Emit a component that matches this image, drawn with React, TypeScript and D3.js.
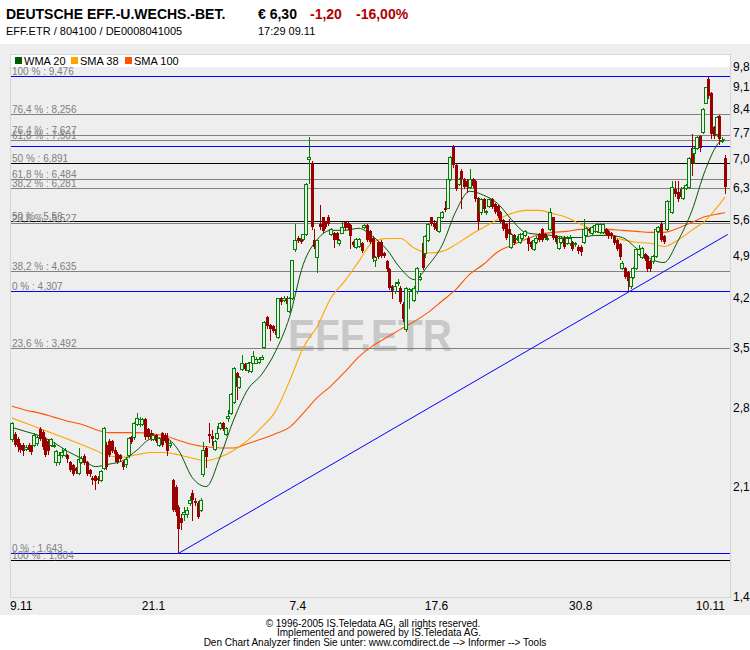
import { useEffect, useRef } from "react";
import * as d3 from "d3";

// daily candles, 9.11.2004 .. 9.11.2005
const opens = [
  2.50, 2.55, 2.50, 2.45, 2.45, 2.41, 2.45, 2.44, 2.45, 2.46, 2.59, 2.57, 2.50, 2.48, 2.45, 2.44, 2.30, 2.30, 2.36, 2.36,
  2.36, 2.30, 2.27, 2.25, 2.21, 2.30, 2.35, 2.30, 2.23, 2.17, 2.18, 2.17, 2.15, 2.25, 2.45, 2.48, 2.48, 2.40, 2.37, 2.36,
  2.30, 2.28, 2.36, 2.52, 2.52, 2.64, 2.64, 2.64, 2.69, 2.59, 2.56, 2.50, 2.54, 2.45, 2.56, 2.54, 2.51, 2.45, 2.15, 2.10,
  1.95, 1.87, 1.90, 1.90, 1.98, 2.05, 1.99, 1.98, 1.93, 2.20, 2.42, 2.55, 2.53, 2.41, 2.51, 2.60, 2.65, 2.55, 2.70, 2.75,
  2.86, 3.19, 3.03, 3.23, 3.29, 3.22, 3.21, 3.31, 3.31, 3.32, 3.36, 3.50, 3.91, 3.80, 3.78, 3.74, 3.64, 4.19, 4.17, 4.20,
  4.00, 4.19, 5.02, 5.24, 5.24, 5.22, 5.30, 7.00, 6.90, 5.20, 4.88, 5.50, 5.64, 5.55, 5.64, 5.30, 5.33, 5.33, 5.13, 5.33,
  5.55, 5.52, 5.48, 5.16, 5.07, 5.08, 5.14, 5.44, 5.48, 5.36, 5.24, 4.82, 5.16, 5.16, 4.95, 4.80, 4.66, 4.38, 4.30, 4.43,
  4.36, 4.11, 3.74, 4.30, 4.32, 4.17, 4.30, 4.50, 5.13, 4.95, 5.20, 5.64, 5.53, 5.53, 5.36, 5.64, 5.83, 5.85, 6.49, 7.30,
  6.85, 6.38, 6.70, 6.49, 6.46, 6.30, 6.49, 6.45, 6.05, 5.75, 6.03, 5.75, 5.88, 6.03, 5.92, 5.88, 5.75, 5.58, 5.50, 5.40,
  5.07, 5.28, 5.22, 5.16, 5.24, 5.28, 5.24, 5.16, 5.02, 5.16, 5.30, 5.40, 5.30, 5.22, 5.40, 5.64, 5.26, 5.05, 5.16, 5.24,
  5.14, 5.14, 5.16, 5.12, 5.07, 5.07, 5.16, 5.28, 5.40, 5.33, 5.36, 5.36, 5.34, 5.34, 5.40, 5.36, 5.33, 5.26, 5.20, 5.11,
  4.69, 4.69, 4.61, 4.38, 4.54, 4.69, 4.93, 4.88, 4.93, 4.90, 4.80, 4.80, 4.90, 5.36, 5.50, 5.26, 5.40, 5.81, 5.75, 6.26,
  6.20, 6.26, 6.06, 6.28, 6.30, 7.28, 7.15, 7.28, 7.62, 7.72, 8.60, 9.37, 8.90, 7.85, 7.66, 8.18, 7.48, 7.02,
];
const highs = [
  2.66, 2.57, 2.52, 2.46, 2.46, 2.45, 2.46, 2.45, 2.56, 2.54, 2.61, 2.58, 2.52, 2.50, 2.51, 2.47, 2.40, 2.38, 2.42, 2.42,
  2.37, 2.31, 2.28, 2.26, 2.42, 2.35, 2.37, 2.31, 2.24, 2.18, 2.19, 2.18, 2.23, 2.61, 2.47, 2.50, 2.49, 2.43, 2.38, 2.37,
  2.31, 2.34, 2.52, 2.53, 2.66, 2.75, 2.71, 2.70, 2.70, 2.60, 2.58, 2.56, 2.55, 2.52, 2.57, 2.56, 2.56, 2.48, 2.16, 2.11,
  1.96, 1.90, 1.95, 1.95, 2.03, 2.07, 2.01, 1.99, 2.01, 2.47, 2.44, 2.65, 2.58, 2.49, 2.62, 2.66, 2.66, 2.61, 2.78, 2.96,
  3.26, 3.20, 3.15, 3.40, 3.30, 3.32, 3.34, 3.45, 3.38, 3.38, 3.40, 3.85, 3.93, 3.82, 3.80, 3.76, 4.20, 4.21, 4.22, 4.22,
  4.21, 4.83, 5.50, 5.26, 5.25, 5.31, 6.40, 7.57, 6.95, 5.40, 5.22, 5.90, 5.66, 5.57, 5.70, 5.42, 5.35, 5.34, 5.22, 5.55,
  5.57, 5.54, 5.50, 5.18, 5.23, 5.24, 5.16, 5.50, 5.50, 5.38, 5.26, 4.90, 5.18, 5.20, 4.97, 4.82, 4.68, 4.40, 4.45, 4.50,
  4.38, 4.13, 4.37, 4.35, 4.36, 4.38, 4.71, 4.60, 5.15, 5.29, 5.52, 5.66, 5.58, 5.56, 5.66, 5.77, 6.00, 6.51, 7.07, 7.35,
  6.87, 6.52, 6.75, 6.52, 6.50, 6.73, 6.51, 6.47, 6.07, 6.05, 6.05, 5.80, 6.05, 6.05, 5.94, 5.90, 5.77, 5.60, 5.52, 5.60,
  5.32, 5.30, 5.26, 5.32, 5.32, 5.38, 5.26, 5.18, 5.22, 5.26, 5.32, 5.42, 5.32, 5.26, 5.85, 5.66, 5.28, 5.26, 5.26, 5.26,
  5.26, 5.28, 5.18, 5.16, 5.09, 5.09, 5.60, 5.45, 5.42, 5.47, 5.50, 5.52, 5.52, 5.52, 5.42, 5.38, 5.35, 5.28, 5.22, 5.13,
  4.80, 4.71, 4.63, 4.56, 4.71, 5.04, 5.10, 5.07, 4.95, 4.92, 4.82, 4.92, 5.42, 5.47, 5.55, 5.28, 6.02, 6.10, 6.45, 6.45,
  6.45, 6.30, 6.30, 6.37, 7.04, 7.66, 7.30, 7.60, 7.64, 8.42, 9.12, 9.476, 8.95, 7.90, 8.20, 8.22, 7.58, 7.10,
];
const lows = [
  2.48, 2.44, 2.39, 2.38, 2.36, 2.40, 2.39, 2.37, 2.44, 2.45, 2.49, 2.41, 2.35, 2.37, 2.44, 2.43, 2.27, 2.28, 2.34, 2.35,
  2.30, 2.22, 2.19, 2.21, 2.20, 2.29, 2.28, 2.19, 2.18, 2.12, 2.08, 2.13, 2.14, 2.24, 2.24, 2.35, 2.38, 2.31, 2.29, 2.31,
  2.24, 2.26, 2.34, 2.46, 2.50, 2.63, 2.62, 2.63, 2.50, 2.51, 2.49, 2.49, 2.47, 2.44, 2.44, 2.47, 2.36, 2.43, 1.92, 1.89,
  1.643, 1.80, 1.86, 1.88, 1.96, 1.86, 1.96, 1.87, 1.92, 2.18, 2.26, 2.47, 2.45, 2.40, 2.50, 2.59, 2.58, 2.54, 2.67, 2.74,
  2.85, 2.90, 3.02, 3.22, 3.22, 3.20, 3.20, 3.30, 3.30, 3.31, 3.35, 3.49, 3.76, 3.60, 3.70, 3.65, 3.63, 4.10, 4.15, 4.08,
  3.98, 4.18, 4.98, 5.15, 5.13, 5.20, 5.28, 6.40, 5.40, 5.05, 4.61, 5.40, 5.34, 5.42, 5.48, 5.28, 5.07, 5.18, 5.10, 5.32,
  5.41, 5.40, 5.05, 5.08, 5.05, 5.06, 4.96, 5.42, 5.18, 5.14, 4.80, 4.72, 4.86, 4.88, 4.88, 4.64, 4.34, 4.20, 4.28, 4.40,
  4.12, 3.85, 3.72, 4.05, 4.28, 4.15, 4.28, 4.48, 4.66, 4.88, 5.18, 5.48, 5.40, 5.38, 5.34, 5.62, 5.77, 5.83, 6.47, 6.80,
  6.24, 6.36, 5.85, 6.28, 6.20, 6.28, 6.30, 6.00, 5.40, 5.72, 5.79, 5.72, 5.86, 5.84, 5.73, 5.66, 5.54, 5.38, 5.22, 5.20,
  5.05, 5.12, 5.20, 5.14, 5.22, 5.26, 5.00, 5.05, 5.00, 5.14, 5.18, 5.18, 5.22, 5.20, 5.38, 5.22, 5.14, 5.03, 5.14, 5.05,
  5.12, 5.10, 5.00, 5.08, 4.95, 4.92, 5.14, 5.26, 5.34, 5.31, 5.34, 5.34, 5.32, 5.32, 5.28, 5.24, 5.24, 5.12, 5.00, 4.85,
  4.67, 4.52, 4.307, 4.36, 4.52, 4.67, 4.91, 4.86, 4.82, 4.64, 4.64, 4.78, 4.88, 5.34, 5.18, 5.14, 5.38, 5.79, 5.73, 6.10,
  6.00, 6.05, 6.04, 6.26, 6.28, 6.60, 6.90, 7.26, 7.20, 7.70, 8.58, 8.75, 7.55, 7.55, 7.60, 7.40, 7.45, 6.17,
];
const closes = [
  2.65, 2.45, 2.43, 2.40, 2.39, 2.43, 2.40, 2.38, 2.54, 2.52, 2.50, 2.43, 2.36, 2.39, 2.50, 2.45, 2.39, 2.36, 2.38, 2.40,
  2.32, 2.23, 2.20, 2.22, 2.32, 2.33, 2.29, 2.20, 2.20, 2.15, 2.14, 2.15, 2.22, 2.60, 2.26, 2.36, 2.39, 2.37, 2.30, 2.32,
  2.26, 2.32, 2.51, 2.47, 2.65, 2.70, 2.69, 2.69, 2.52, 2.52, 2.50, 2.54, 2.48, 2.51, 2.45, 2.48, 2.39, 2.46, 1.93, 1.91,
  1.80, 1.84, 1.91, 1.93, 2.00, 2.00, 1.98, 1.88, 2.00, 2.40, 2.34, 2.53, 2.50, 2.48, 2.56, 2.65, 2.59, 2.60, 2.72, 2.95,
  3.25, 3.03, 3.14, 3.30, 3.23, 3.31, 3.32, 3.39, 3.36, 3.36, 3.38, 3.84, 3.78, 3.74, 3.72, 3.67, 4.19, 4.13, 4.19, 4.10,
  4.20, 4.82, 5.20, 5.17, 5.15, 5.30, 6.38, 7.05, 5.45, 5.07, 5.20, 5.44, 5.36, 5.44, 5.50, 5.40, 5.20, 5.20, 5.20, 5.45,
  5.43, 5.42, 5.26, 5.10, 5.22, 5.22, 4.98, 5.48, 5.20, 5.16, 4.84, 4.87, 4.88, 4.90, 4.90, 4.66, 4.36, 4.30, 4.38, 4.45,
  4.14, 3.88, 4.36, 4.33, 4.34, 4.36, 4.69, 4.54, 4.69, 5.27, 5.50, 5.50, 5.44, 5.40, 5.64, 5.75, 5.79, 6.49, 7.05, 6.85,
  6.26, 6.49, 6.49, 6.30, 6.30, 6.49, 6.32, 6.03, 5.56, 6.03, 5.81, 5.77, 6.03, 5.86, 5.75, 5.68, 5.56, 5.40, 5.24, 5.30,
  5.30, 5.14, 5.24, 5.30, 5.30, 5.36, 5.11, 5.07, 5.20, 5.24, 5.20, 5.20, 5.24, 5.24, 5.75, 5.24, 5.16, 5.24, 5.24, 5.07,
  5.24, 5.24, 5.03, 5.14, 4.98, 4.96, 5.40, 5.42, 5.36, 5.45, 5.48, 5.50, 5.50, 5.50, 5.30, 5.26, 5.26, 5.14, 5.02, 4.87,
  4.78, 4.54, 4.46, 4.54, 4.69, 5.02, 5.02, 5.05, 4.84, 4.66, 4.66, 4.90, 5.40, 5.45, 5.20, 5.16, 6.00, 6.00, 6.30, 6.15,
  6.03, 6.08, 6.28, 6.35, 7.02, 6.87, 7.28, 7.58, 7.28, 8.40, 9.10, 8.80, 7.66, 7.62, 8.15, 7.52, 7.50, 6.30,
];

// moving averages at these candle positions
const maIndex = [
  0, 5, 10, 15, 20, 25, 30, 35, 40, 45, 50, 55, 60, 65, 70, 75, 80, 85, 90, 95, 100, 105, 110, 115, 120, 125, 130,
  135, 140, 145, 150, 155, 160, 165, 170, 175, 180, 185, 190, 195, 200, 205, 210, 215, 220, 225, 230, 235, 240, 245,
  250, 255, 257,
];
const wma20 = [
  2.61, 2.57, 2.53, 2.47, 2.39, 2.33, 2.26, 2.28, 2.31, 2.40, 2.50, 2.51, 2.40, 2.17, 2.10, 2.34, 2.69, 3.00, 3.17, 3.45,
  3.91, 4.75, 5.20, 5.38, 5.38, 5.42, 5.26, 5.02, 4.68, 4.49, 4.73, 5.09, 5.77, 6.21, 6.12, 5.94, 5.60, 5.34, 5.30, 5.28,
  5.24, 5.24, 5.28, 5.28, 5.24, 5.04, 4.85, 4.78, 5.17, 5.77, 6.73, 7.44, 7.52,
];
const sma38 = [
  2.70, 2.65, 2.60, 2.55, 2.50, 2.45, 2.40, 2.35, 2.34, 2.36, 2.38, 2.38, 2.36, 2.33, 2.31, 2.34, 2.40, 2.49, 2.61, 2.77,
  3.09, 3.50, 3.78, 4.20, 4.47, 4.80, 5.15, 5.22, 5.22, 5.04, 4.95, 4.98, 5.11, 5.28, 5.44, 5.60, 5.72, 5.79, 5.79, 5.72,
  5.64, 5.50, 5.38, 5.28, 5.20, 5.15, 5.13, 5.07, 5.19, 5.38, 5.58, 5.92, 6.08,
];
const sma100 = [
  2.82, 2.78, 2.75, 2.71, 2.67, 2.64, 2.59, 2.56, 2.56, 2.56, 2.55, 2.53, 2.49, 2.45, 2.43, 2.42, 2.42, 2.46, 2.50, 2.55,
  2.61, 2.75, 2.91, 3.04, 3.20, 3.38, 3.52, 3.63, 3.74, 3.85, 3.98, 4.15, 4.33, 4.58, 4.75, 4.97, 5.09, 5.20, 5.30, 5.34,
  5.36, 5.40, 5.40, 5.40, 5.38, 5.36, 5.34, 5.34, 5.42, 5.54, 5.66, 5.72, 5.74,
];

// fibonacci retracement levels
const fibValues = [9.476, 8.256, 7.627, 7.501, 7.33, 6.891, 6.484, 6.281, 5.56, 5.527, 4.635, 4.307, 3.492, 1.643, 1.604];
const fibKinds = ["end", "ret", "ret", "ret", "end", "mid", "ret", "ret", "mid", "ret", "ret", "end", "ret", "end", "mid"];
const fibLabels = [
  "100 % : 9,476", "76,4 % : 8,256", "76,4 % : 7,627", "61,8 % : 7,501", "", "50 % : 6,891", "61,8 % : 6,484",
  "38,2 % : 6,281", "50 % : 5,56", "23,6 % : 5,527", "38,2 % : 4,635", "0 % : 4,307", "23,6 % : 3,492", "0 % : 1,643",
  "100 % : 1,604",
];

// support trend line
const trendIndex = [60, 258];
const trendValue = [1.643, 5.3];

const yTicks = [9.8, 9.1, 8.4, 7.7, 7.0, 6.3, 5.6, 4.9, 4.2, 3.5, 2.8, 2.1, 1.4];
const xTickIndex = [0, 51, 103, 153, 205, 257];
const xTickLabels = ["9.11", "21.1", "7.4", "17.6", "30.8", "10.11"];

const legendNames = ["WMA 20", "SMA 38", "SMA 100"];

const FONT = "'Liberation Sans', Arial, sans-serif";
const kindColor: Record<string, string> = { end: "#0000ff", ret: "#808080", mid: "#000000" };

export default function App() {
  const svgRef = useRef<SVGSVGElement | null>(null);

  useEffect(() => {
    if (!svgRef.current) return;
    const svg = d3.select(svgRef.current);
    svg.selectAll("*").remove();

    const W = 750;
    const H = 650;
    const plot = { left: 10, right: 730, top: 67, bottom: 597 };

    const x = d3.scaleLinear().domain([0, 257]).range([12, 725]);
    const y = d3.scaleLog().domain([1.4, 9.8]).range([plot.bottom, plot.top]);
    const px = (i: number) => Math.round(x(i));
    const py = (v: number) => Math.round(y(v)) + 0.5;

    svg.attr("width", W).attr("height", H).attr("viewBox", `0 0 ${W} ${H}`);

    svg.append("rect").attr("width", W).attr("height", H).attr("fill", "#fff");
    svg.append("rect").attr("x", 0).attr("y", 44).attr("width", W).attr("height", 571).attr("fill", "#eeeeee");

    // header
    const head = svg.append("g").attr("font-family", FONT);
    head.append("text").attr("x", 6).attr("y", 19).attr("font-size", 14).attr("font-weight", "bold")
      .text("DEUTSCHE EFF.-U.WECHS.-BET.");
    head.append("text").attr("x", 258).attr("y", 19).attr("font-size", 14).attr("font-weight", "bold").text("€ 6,30");
    head.append("text").attr("x", 310).attr("y", 19).attr("font-size", 14).attr("font-weight", "bold")
      .attr("fill", "#b00000").text("-1,20");
    head.append("text").attr("x", 356).attr("y", 19).attr("font-size", 14).attr("font-weight", "bold")
      .attr("fill", "#b00000").text("-16,00%");
    head.append("text").attr("x", 6).attr("y", 35).attr("font-size", 11).text("EFF.ETR  /  804100  /  DE0008041005");
    head.append("text").attr("x", 258).attr("y", 35).attr("font-size", 11).text("17:29   09.11");

    // frame + legend strip
    svg.append("rect").attr("x", plot.left + 0.5).attr("y", 54.5)
      .attr("width", plot.right - plot.left).attr("height", plot.bottom - 54)
      .attr("fill", "#eeeeee").attr("stroke", "#d6d6d6");
    svg.append("rect").attr("x", plot.left + 1).attr("y", 55)
      .attr("width", plot.right - plot.left - 1).attr("height", 12).attr("fill", "#fff");

    const legendColors = ["#005a00", "#ffa500", "#ff5500"];
    const legendX = [15, 71, 125];
    legendNames.forEach((name, k) => {
      svg.append("rect").attr("x", legendX[k]).attr("y", 57).attr("width", 7).attr("height", 7).attr("fill", legendColors[k]);
      svg.append("text").attr("x", legendX[k] + 9).attr("y", 65).attr("font-family", FONT).attr("font-size", 11)
        .text(name);
    });

    // watermark
    svg.append("text").attr("x", 370).attr("y", 351).attr("text-anchor", "middle")
      .attr("font-family", FONT).attr("font-weight", "bold").attr("font-size", 44)
      .attr("textLength", 164).attr("lengthAdjust", "spacingAndGlyphs")
      .attr("fill", "#c8c8c8").text("EFF.ETR");

    // fib lines
    const fib = svg.append("g");
    fibValues.forEach((v, k) => {
      fib.append("line").attr("x1", plot.left + 1).attr("x2", plot.right)
        .attr("y1", py(v)).attr("y2", py(v))
        .attr("stroke", kindColor[fibKinds[k]]).attr("stroke-width", 1);
    });
    fibValues.forEach((v, k) => {
      if (!fibLabels[k]) return;
      fib.append("text").attr("x", 12).attr("y", Math.round(y(v)) - 1.5)
        .attr("font-family", FONT).attr("font-size", 10).attr("fill", "#808080").text(fibLabels[k]);
    });

    // trend line
    svg.append("line")
      .attr("x1", x(trendIndex[0])).attr("y1", y(trendValue[0]))
      .attr("x2", x(trendIndex[1])).attr("y2", y(trendValue[1]))
      .attr("stroke", "#0000ff").attr("stroke-width", 1);

    // moving averages
    const ma = (vals: number[]) =>
      d3.line<number>().x((_, k) => x(maIndex[k])).y((d) => y(d)).curve(d3.curveMonotoneX)(vals);
    svg.append("path").attr("d", ma(sma100)).attr("fill", "none").attr("stroke", "#ff5500").attr("stroke-width", 1.1);
    svg.append("path").attr("d", ma(sma38)).attr("fill", "none").attr("stroke", "#ffa500").attr("stroke-width", 1.1);
    svg.append("path").attr("d", ma(wma20)).attr("fill", "none").attr("stroke", "#005a00").attr("stroke-width", 1);

    // candles
    const up = "#008000";
    const down = "#990000";
    const cg = svg.append("g");
    opens.forEach((o, i) => {
      const c = closes[i];
      const isUp = c >= o;
      const col = isUp ? up : down;
      const cx = px(i);
      cg.append("line").attr("x1", cx + 0.5).attr("x2", cx + 0.5)
        .attr("y1", Math.round(y(highs[i]))).attr("y2", Math.round(y(lows[i])) + 1)
        .attr("stroke", col).attr("stroke-width", 1);
      const top = Math.round(y(Math.max(o, c)));
      const bot = Math.round(y(Math.min(o, c)));
      if (isUp) {
        cg.append("rect").attr("x", cx - 1.5).attr("y", top + 0.5)
          .attr("width", 3).attr("height", Math.max(bot - top, 1))
          .attr("fill", "#eeeeee").attr("stroke", col).attr("stroke-width", 1);
      } else {
        cg.append("rect").attr("x", cx - 1).attr("y", top)
          .attr("width", 3).attr("height", Math.max(bot - top, 2)).attr("fill", col);
      }
    });

    // y axis (right)
    const ya = svg.append("g").attr("font-family", FONT).attr("font-size", 12);
    yTicks.forEach((t) => {
      ya.append("text").attr("x", 733).attr("y", y(t)).attr("dy", "0.35em")
        .text(t.toFixed(1).replace(".", ","));
    });

    // x axis labels
    const xa = svg.append("g").attr("font-family", FONT).attr("font-size", 12);
    xTickIndex.forEach((t, k) => {
      const last = k === xTickIndex.length - 1;
      const first = k === 0;
      xa.append("text")
        .attr("x", first ? x(t) - 2 : x(t))
        .attr("y", 610)
        .attr("text-anchor", first ? "start" : last ? "end" : "middle")
        .text(xTickLabels[k]);
    });

    // footer
    const foot = svg.append("g").attr("font-family", FONT).attr("font-size", 10).attr("text-anchor", "middle");
    foot.append("text").attr("x", 373).attr("y", 627).text("© 1996-2005 IS.Teledata AG, all rights reserved.");
    foot.append("text").attr("x", 379).attr("y", 636).text("Implemented and powered by IS.Teledata AG.");
    foot.append("text").attr("x", 375).attr("y", 646)
      .text("Den Chart Analyzer finden Sie unter: www.comdirect.de --> Informer --> Tools");
  }, []);

  return <svg ref={svgRef} style={{ position: "absolute", left: 0, top: 0, display: "block" }} />;
}
